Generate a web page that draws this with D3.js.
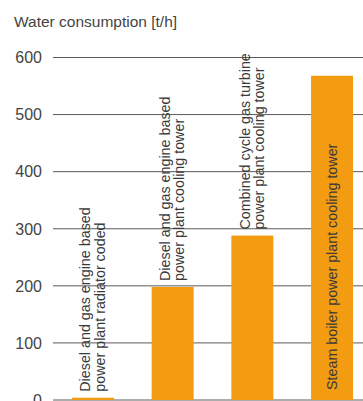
<!DOCTYPE html>
<html>
<head>
<meta charset="utf-8">
<script src="https://cdn.jsdelivr.net/npm/d3@7"></script>
<style>
  html, body { margin: 0; padding: 0; background: #fff; }
  svg { display: block; font-family: "Liberation Sans", Arial, sans-serif; }
</style>
</head>
<body>
<svg id="chart" width="363" height="401"></svg>
<script>
// ---- data ----
const categories = [
  ["Diesel and gas engine based", "power plant radiator coded"],
  ["Diesel and gas engine based", "power plant cooling tower"],
  ["Combined cycle gas turbine", "power plant cooling tower"],
  ["Steam boiler power plant cooling tower"]
];
const values = [4, 198, 288, 568];
const yTicks = [0, 100, 200, 300, 400, 500, 600];
const yTitle = "Water consumption [t/h]";

// ---- drawing ----
const svg = d3.select("#chart");
const W = 363;
const ids = categories.map((c, i) => i);

const x = d3.scaleBand().domain(ids).range([53, 372]).paddingInner(0.473).paddingOuter(0.238);
const y = d3.scaleLinear().domain([0, 600]).range([400, 57.5]);

// title
svg.append("text")
  .attr("x", 14).attr("y", 27)
  .attr("font-size", 15.5).attr("fill", "#444")
  .text(yTitle);

// grid + tick labels
const grid = svg.append("g");
grid.selectAll("line").data(yTicks).join("line")
  .attr("x1", 53).attr("x2", W)
  .attr("y1", d => y(d)).attr("y2", d => y(d))
  .attr("stroke", "#5a5a5a").attr("stroke-width", 1);
grid.selectAll("text").data(yTicks).join("text")
  .attr("x", 42).attr("y", d => y(d))
  .attr("text-anchor", "end").attr("dy", "0.36em")
  .attr("font-size", 16).attr("fill", "#444")
  .text(d => d);

// bars
svg.append("g").selectAll("rect").data(ids).join("rect")
  .attr("x", i => x(i)).attr("width", x.bandwidth())
  .attr("y", i => y(values[i])).attr("height", i => y(0) - y(values[i]))
  .attr("fill", "#F39C12");

// labels (rotated)
const lab = svg.append("g").selectAll("g").data(ids).join("g")
  .attr("transform", i => {
    const cx = x(i) + x.bandwidth() / 2;
    const inside = categories[i].length === 1;
    const yy = inside ? y(0) - 10 : y(values[i]) - 6;
    return `translate(${cx},${yy}) rotate(-90)`;
  });
lab.each(function(i) {
  const lines = categories[i];
  const g = d3.select(this);
  const off = lines.length === 1 ? [0] : [-8, 6.5];
  lines.forEach((t, k) => {
    g.append("text")
      .attr("x", 0).attr("y", off[k])
      .attr("dy", "0.36em")
      .attr("font-size", 14.3).attr("fill", "#3a3a3a")
      .text(t);
  });
});
</script>
</body>
</html>
